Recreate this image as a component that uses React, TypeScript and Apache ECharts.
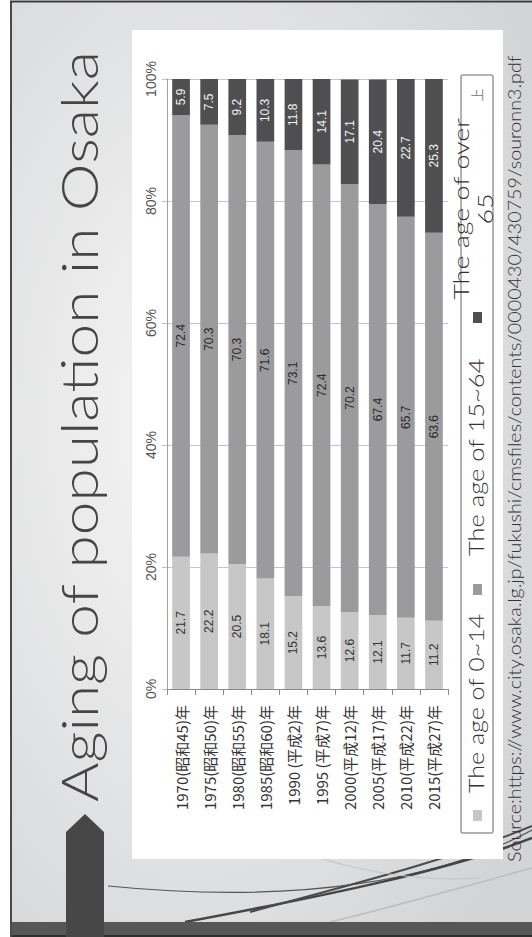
import React, { useEffect, useRef } from "react";
import * as echarts from "echarts";

const categories = [
  "1970(昭和45)年",
  "1975(昭和50)年",
  "1980(昭和55)年",
  "1985(昭和60)年",
  "1990 (平成2)年",
  "1995 (平成7)年",
  "2000(平成12)年",
  "2005(平成17)年",
  "2010(平成22)年",
  "2015(平成27)年",
];
const age0to14 = [21.7, 22.2, 20.5, 18.1, 15.2, 13.6, 12.6, 12.1, 11.7, 11.2];
const age15to64 = [72.4, 70.3, 70.3, 71.6, 73.1, 72.4, 70.2, 67.4, 65.7, 63.6];
const age65plus = [5.9, 7.5, 9.2, 10.3, 11.8, 14.1, 17.1, 20.4, 22.7, 25.3];
const seriesNames = ["The age of 0~14", "The age of 15~64", "The age of over\n65"];
const seriesColors = ["#c7c7c7", "#9b9b9d", "#4f4f51"];
const labelColors = ["#333333", "#2a2a2a", "#f2f2f2"];
const titleText = "Aging of population in Osaka";
const sourceText =
  "Source:https://www.city.osaka.lg.jp/fukushi/cmsfiles/contents/0000430/430759/souronn3.pdf";
const legendResidue = "上";

const FONT = "Lato";

function fitScale(text: string, size: number, weight: number, target: number) {
  const ctx = document.createElement("canvas").getContext("2d");
  if (!ctx) return 1;
  ctx.font = `${weight} ${size}px ${FONT}`;
  const lines = text.split("\n");
  let w = 0;
  for (const l of lines) w = Math.max(w, ctx.measureText(l).width);
  return w > 0 ? target / w : 1;
}

export default function App() {
  const ref = useRef<HTMLDivElement>(null);

  useEffect(() => {
    if (!ref.current) return;
    const chart = echarts.init(ref.current, undefined, { renderer: "svg" });
    const R = Math.PI / 2;

    const rotText = (
      text: string,
      x: number,
      y: number,
      size: number,
      target: number,
      align: string,
      color: string,
      z: number,
      lineHeight?: number
    ) => ({
      type: "text",
      x,
      y,
      rotation: R,
      scaleX: fitScale(text, size, 300, target),
      z,
      style: {
        text,
        fontFamily: FONT,
        fontWeight: 300,
        fontSize: size,
        fill: color,
        align,
        verticalAlign: "middle",
        lineHeight: lineHeight || size * 1.2,
      },
    });

    const legendSpecs = [
      { sq: [473, 810], tx: [476, 793], target: 180, align: "left" },
      { sq: [473, 584], tx: [476, 556], target: 198, align: "left" },
      { sq: [473, 312], tx: [473, 209], target: 182, align: "center" },
    ];

    const graphic: any[] = [
      {
        type: "rect",
        z: -20,
        shape: { x: 11, y: 1, width: 521, height: 936 },
        style: {
          fill: {
            type: "radial",
            x: 0.35,
            y: 0.45,
            r: 0.75,
            colorStops: [
              { offset: 0, color: "#f6f6f6" },
              { offset: 1, color: "#d3d4d6" },
            ],
          },
        },
      },
      {
        type: "bezierCurve",
        z: -19,
        shape: { x1: 108, y1: 886, cpx1: 300, cpy1: 905, cpx2: 440, cpy2: 880, x2: 532, y2: 830 },
        style: { stroke: "#555555", lineWidth: 1.2, fill: "none" },
      },
      {
        type: "bezierCurve",
        z: -19,
        shape: { x1: 185, y1: 922, cpx1: 330, cpy1: 895, cpx2: 450, cpy2: 870, x2: 532, y2: 838 },
        style: { stroke: "#454545", lineWidth: 2.5, fill: "none" },
      },
      {
        type: "bezierCurve",
        z: -19,
        shape: { x1: 250, y1: 912, cpx1: 350, cpy1: 885, cpx2: 450, cpy2: 860, x2: 532, y2: 826 },
        style: { stroke: "#4a4a4a", lineWidth: 2, fill: "none" },
      },
      {
        type: "bezierCurve",
        z: -19,
        shape: { x1: 330, y1: 922, cpx1: 400, cpy1: 905, cpx2: 470, cpy2: 885, x2: 532, y2: 868 },
        style: { stroke: "#bdbdbd", lineWidth: 1.5, fill: "none" },
      },
      {
        type: "bezierCurve",
        z: -19,
        shape: { x1: 300, y1: 852, cpx1: 360, cpy1: 872, cpx2: 420, cpy2: 882, x2: 480, y2: 878 },
        style: { stroke: "#c4c4c4", lineWidth: 1, fill: "none" },
      },
      {
        type: "rect",
        z: -15,
        shape: { x: 132, y: 30, width: 371, height: 829 },
        style: { fill: "#ffffff" },
      },
      {
        type: "rect",
        z: -14,
        shape: { x: 11, y: 922, width: 521, height: 15 },
        style: { fill: "#575757" },
      },
      {
        type: "line",
        z: -14,
        shape: { x1: 11, y1: 936, x2: 532, y2: 936 },
        style: { stroke: "#222222", lineWidth: 1.5 },
      },
      {
        type: "polygon",
        z: -13,
        shape: { points: [[66, 937], [66, 832], [85, 814], [104, 832], [104, 937]] },
        style: { fill: "#474747" },
      },
      {
        type: "line",
        z: -12,
        shape: { x1: 11, y1: 1, x2: 11, y2: 937 },
        style: { stroke: "#4a4a4a", lineWidth: 2 },
      },
      {
        type: "line",
        z: -12,
        shape: { x1: 10, y1: 1.5, x2: 532, y2: 1.5 },
        style: { stroke: "#3a3a3a", lineWidth: 2 },
      },
      {
        type: "rect",
        z: 5,
        shape: { x: 461, y: 75, width: 32, height: 758, r: 2 },
        style: { fill: "#ffffff", stroke: "#9a9a9a", lineWidth: 1.5 },
      },
      {
        type: "text",
        x: 476,
        y: 95,
        rotation: R,
        z: 6,
        style: {
          text: legendResidue,
          fontSize: 13,
          fill: "#8a8a8a",
          align: "center",
          verticalAlign: "middle",
          fontFamily: "Noto Sans CJK JP",
        },
      },
      rotText(titleText, 78, 802, 52, 752, "left", "#454545", 10),
      rotText(sourceText, 515, 862, 17, 807, "left", "#333333", 10),
    ];

    legendSpecs.forEach((s, i) => {
      graphic.push({
        type: "rect",
        z: 6,
        shape: { x: s.sq[0], y: s.sq[1], width: 9, height: 11 },
        style: { fill: seriesColors[i] },
      });
      graphic.push(
        rotText(seriesNames[i], s.tx[0], s.tx[1], 21, s.target, s.align, "#333333", 7, 24)
      );
    });

    const seriesData = [age0to14, age15to64, age65plus];

    chart.setOption({
      animation: false,
      backgroundColor: "transparent",
      grid: { left: 167, right: 84, top: 79, bottom: 248, containLabel: false },
      xAxis: {
        type: "category",
        data: categories,
        axisLine: { show: true, lineStyle: { color: "#8a8a8a", width: 1 } },
        axisTick: { show: true, length: 6, lineStyle: { color: "#8a8a8a" } },
        axisLabel: {
          rotate: 90,
          interval: 0,
          fontSize: 15,
          color: "#333333",
          margin: 16,
          fontFamily: "Noto Sans CJK JP",
        },
      },
      yAxis: {
        type: "value",
        min: 0,
        max: 100,
        interval: 20,
        axisLine: { show: true, lineStyle: { color: "#a0a0a0" } },
        axisTick: { show: true, length: 5, lineStyle: { color: "#c0c0c0" } },
        axisLabel: {
          formatter: "{value}%",
          rotate: 90,
          fontSize: 14,
          color: "#555555",
          margin: 9,
          fontFamily: "Liberation Sans",
        },
        splitLine: { show: true, lineStyle: { color: "#c4c4c4", width: 1 } },
      },
      series: seriesData.map((d, i) => ({
        type: "bar",
        name: seriesNames[i],
        stack: "total",
        data: d,
        barCategoryGap: "37%",
        itemStyle: { color: seriesColors[i] },
        label: {
          show: true,
          position: "inside",
          rotate: 90,
          fontSize: 12,
          color: labelColors[i],
          fontFamily: "Liberation Sans",
        },
      })),
      graphic,
    });

    return () => chart.dispose();
  }, []);

  return (
    <div
      ref={ref}
      style={{ position: "fixed", left: 0, top: 0, width: 532, height: 937, background: "#ffffff" }}
    />
  );
}
